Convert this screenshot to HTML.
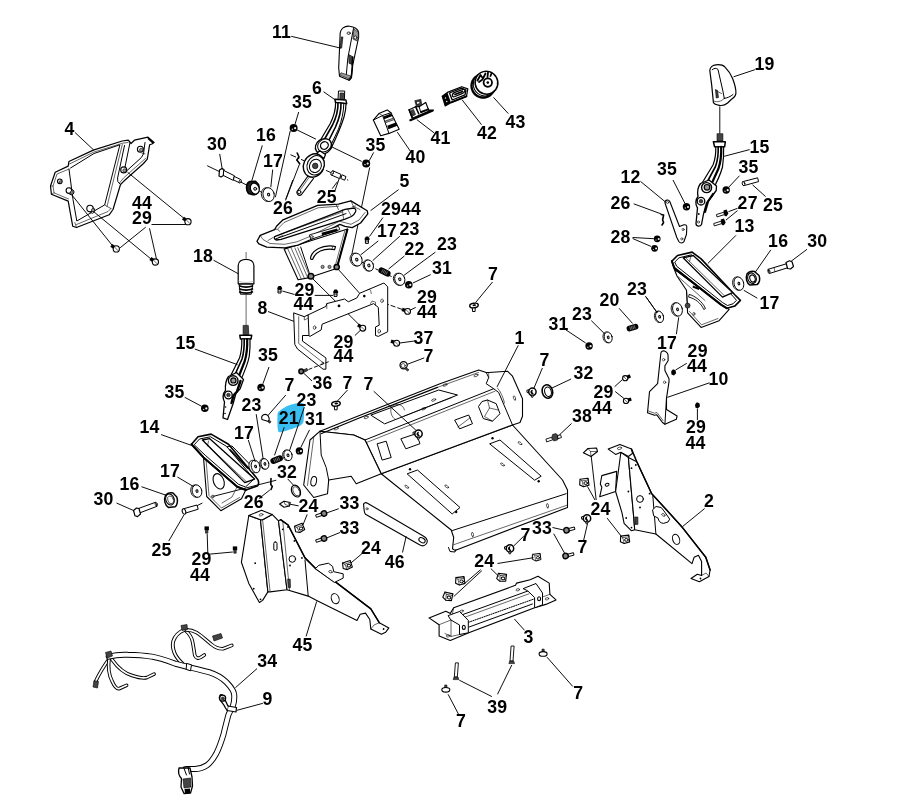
<!DOCTYPE html><html><head><meta charset="utf-8"><title>Parts diagram</title><style>html,body{margin:0;padding:0;background:#fff}svg{display:block;will-change:transform}text{font-family:"Liberation Sans",sans-serif;font-weight:bold;font-size:17.7px;fill:#000;letter-spacing:.2px}.s{fill:none;stroke:#000;stroke-width:1;stroke-linecap:round;stroke-linejoin:round}.w{fill:#fff;stroke:#000;stroke-width:1;stroke-linejoin:round;stroke-linecap:round}.k{fill:#000;stroke:none}.l{fill:none;stroke:#000;stroke-width:.95}.t{fill:none;stroke:#000;stroke-width:.6;stroke-linecap:round;stroke-linejoin:round}.g{fill:#999;stroke:#000;stroke-width:.6;stroke-linejoin:round}.d{fill:#444;stroke:#000;stroke-width:.6;stroke-linejoin:round}.b{fill:none;stroke:#000;stroke-width:1.6;stroke-linecap:round;stroke-linejoin:round}.wb{fill:#fff;stroke:#000;stroke-width:1.6;stroke-linecap:round;stroke-linejoin:round}</style></head><body>
<svg width="920" height="801" viewBox="0 0 920 801">
<rect width="920" height="801" fill="#fff"/>
<g><path d="M277.600 413.200 C278 411.800 281 409.500 284.600 407.400 C287.500 405.800 290 404.900 292.400 404.300 C295.500 403.500 298 403 300.200 403 C302 403 304 403.300 304.100 404.300 C304.300 407 304.200 410 304.100 412.600 C304 416 303.800 420.500 303.300 422.200 C302.600 424 300.500 425.600 298.500 426.500 C296 427.600 293 428.700 289.800 429.600 C287 430.500 283.500 431.600 281.100 432.200 C279.500 432.500 278.200 431.800 278 430.400 C277.600 428 277.400 425.500 277.400 423 C277.400 420 277.400 415.500 277.600 413.200Z" fill="#38bef0"/></g>
<g><path class="w" style="stroke-width:1.2" d="M68.9 161.5 L93.3 150.1 L122.2 141 L128.3 140.2 L131 143.5 L134.4 140.2 L148 137.2 L154.1 142.5 L151.9 144 L149.6 144.8 L147.3 159.2 L143.5 163.5 L123.7 181.3 L120.5 184.5 L113 209.5 L109.2 214.8 L76.5 227.5 L72.7 226.2 L68.2 201.1 L51.4 194.2 L50.5 186 L55.2 172.2 L68.2 166.1Z"/><path class="s" d="M70.5 168 L94 153.5 L119.9 144.8 L104.7 204.9 L76.8 221 L73 199.5 L69 169"/><path class="t" d="M69.5 164 L93.6 152.2 L122.5 143.2 L128 142.5"/><path class="s" d="M124.5 145.5 L117.6 178 L117.8 181.5 L120.5 184.5"/><path class="t" d="M122.3 144.5 L107 206.5"/><path class="s" d="M130 142.5 L124.8 168 L126 171.5 L141.2 157.7 L143.5 153.9 L145 142.5"/><path class="t" d="M145 153.8 L142 153.5"/><path class="t" d="M119.5 183 L123.5 178 L146 158"/><path class="k" d="M148 137.2 L154.1 142.5 L152.5 143.5 L147.6 139Z"/><path class="t" d="M104.7 204.9 L108 207 L111 208.5"/><path class="t" d="M76.5 224.5 L108 211.5 L111 208.5"/><path class="t" d="M74.8 222.5 L76.5 227.5"/><path class="t" d="M68.5 199 L54 192.8 L53 186 L57 174 L68.9 169.1"/><path class="t" d="M50.5 186 L53 186"/><path class="t" d="M51.4 194.2 L54 192.8"/><circle class="w" style="stroke-width:1.1" cx="59.8" cy="181.3" r="2.3"/><circle class="g" cx="60.6" cy="181.9" r="1.3"/><circle class="w" style="stroke-width:1.1" cx="123.7" cy="169.9" r="3"/><circle class="g" cx="124.5" cy="170.5" r="1.7"/><circle class="w" style="stroke-width:1.1" cx="140.4" cy="149.3" r="3"/><circle class="g" cx="141.2" cy="149.9" r="1.7"/><path class="w" d="M68.3 193.3 l3 1.6 a2.8 2.8 0 0 0 1.6 -5 l-3 -1.6"/><circle class="w" style="stroke-width:1.1" cx="68.9" cy="190.5" r="2.8"/><circle class="g" cx="71.9" cy="192.1" r="1.4"/><path class="w" d="M89.4 211.7 l3 1.6 a3.2 3.2 0 0 0 1.6 -5 l-3 -1.6"/><circle class="w" style="stroke-width:1.1" cx="90" cy="208.5" r="3.2"/><circle class="g" cx="93" cy="210.1" r="1.6"/><path class="l" d="M75 132.5L93.7 150"/><path class="l" d="M127.5 172.2L184.8 219"/><path class="l" d="M71.5 194.5L112.5 245.7"/><path class="l" d="M93.5 211.5L153.3 260.9"/><path class="l" d="M151.5 224.5L185.9 224.5"/><path class="l" d="M145.7 227.2L120.1 247.8"/><path class="l" d="M149.5 228.3L156.5 259.2"/><path class="k" d="M189 220.3 L184 216.8 L182 219.6 L187 223.1Z"/><circle class="w" style="stroke-width:1.1" cx="188" cy="221.7" r="3.1"/><path class="t" d="M186.4 220.1L189.6 223.2"/><path class="k" d="M117.3 247.5 L112.3 244 L110.3 246.8 L115.3 250.3Z"/><circle class="w" style="stroke-width:1.1" cx="116.3" cy="248.9" r="3.1"/><path class="t" d="M114.8 247.3L117.8 250.5"/><path class="k" d="M156.4 260.6 L151.4 257.1 L149.4 259.9 L154.4 263.4Z"/><circle class="w" style="stroke-width:1.1" cx="155.4" cy="262" r="3.1"/><path class="t" d="M153.8 260.4L157 263.6"/></g>
<g><path class="w" style="stroke-width:1.1" d="M340.1 35 C340 28 345 25.8 349.5 26.2 C354 26.6 358.4 29 358.6 32.5 L358.6 37.5 L352.4 66.7 L351.3 77.4 L349 80.2 L339.5 76.2 L338.7 67.8 Z"/><path class="s" d="M353.5 28.5 L347.9 57.7 L346.2 75.7"/><path class="d" d="M341.2 36.9 L342.9 36.9 L341.7 48.1 L340 48.1Z"/><path class="g" d="M353.8 29 L358.2 32 L358.6 37.5 L357 41 L353 39Z"/><circle class="w" style="stroke-width:.8" cx="355.4" cy="37.5" r="1.6"/><ellipse class="w" style="stroke-width:.8" cx="348.7" cy="33.2" rx="1.7" ry="1.2"/><path class="d" d="M348.5 54.3 L352.4 56.6 L351.9 64.4 L349 63.3Z"/><path class="g" d="M339.8 75 L349 79 L350.8 76 L341 72.8Z"/><path class="b" d="M352.4 66.7 L351.3 77.4 L349.3 80"/><path class="b" d="M352.8 57 L352.2 66"/><path class="l" d="M291.2 36.3L340.6 48.1"/><path class="w" d="M338.9 91 L344.7 91 L344.4 99.5 L338.4 99.5Z"/><path class="d" d="M340 93 L343.6 93 L343.4 99.5 L339.8 99.5Z"/><path class="w" style="stroke-width:1.4" d="M334.9 99.2 L345.9 100 L346.7 103.7 L335.4 102.4Z"/><path class="w" style="stroke-width:1.2" d="M335.6 102.4 C335.8 110 334 116 330 124 L320.5 140 L331 148.5 C336 138 341 127 344 117 C345.5 112 346 108 346 103.7 Z"/><path class="b" d="M338 103 C338.2 111 336 118 332.5 125 L323.5 141"/><path class="b" d="M341 103.4 C341.2 112 339 119 335.5 127 L327 144"/><path class="s" d="M343.8 103.6 C343.8 112 341.5 121 338.5 129 L330 147"/><ellipse class="w" style="stroke-width:1.3" cx="323.5" cy="146.3" rx="8.6" ry="7.2" transform="rotate(-35 323.5 146.3)"/><ellipse class="w" style="stroke-width:1" cx="324.4" cy="145.5" rx="7.2" ry="6" transform="rotate(-35 324.4 145.5)"/><ellipse class="w" style="stroke-width:1.3" cx="324.4" cy="145.5" rx="4" ry="3.6" transform="rotate(-35 324.4 145.5)"/><path class="w" style="stroke-width:1.2" d="M308 176 L297 191.500 C296 194 299 196.500 301.500 194.500 L313.500 178.5"/><path class="t" d="M309.8 176.500 L299.500 191"/><path class="w" style="stroke-width:1.2" d="M316.500 153.500 L319.800 150.800 L325.500 154.500 L324 158.500 Z"/><ellipse class="w" style="stroke-width:1.4" cx="313.8" cy="165.5" rx="10.2" ry="12" transform="rotate(25 313.8 165.5)"/><ellipse class="w" style="stroke-width:1.1" cx="315.6" cy="165.3" rx="8.4" ry="10" transform="rotate(25 315.6 165.3)"/><ellipse class="w" cx="315.4" cy="165.9" rx="5.8" ry="6.8" transform="rotate(25 315.4 165.9)"/><circle class="d" cx="315.2" cy="165.9" r="2.8"/><circle class="w" style="stroke-width:.9" cx="299.2" cy="192" r="1.7"/><circle class="k" cx="293.6" cy="128" r="4"/><circle class="w" style="stroke:none;fill:#eee" cx="295.1" cy="128.2" r="1.1"/><circle class="w" style="stroke:none;fill:#ccc" cx="292.4" cy="129.2" r="0.8"/><circle class="k" cx="366.2" cy="163.4" r="4"/><circle class="w" style="stroke:none;fill:#eee" cx="367.7" cy="163.6" r="1.1"/><circle class="w" style="stroke:none;fill:#ccc" cx="365" cy="164.6" r="0.8"/><path class="l" d="M297.2 130L316 139.2"/><path class="l" d="M332 147L361.7 161.4"/><path class="l" d="M298.7 112L295 124.3"/><path class="l" d="M373.7 152.4L369.2 160.7"/><path class="l" d="M369.7 167.5L351.2 257.5"/><path class="l" d="M290.2 131L275.4 197.2"/><path class="l" d="M323.5 91.7L335.4 100"/><path class="l" d="M290.500 154.700L304 160.700M326 170.400L348.2 180.200" stroke-dasharray="6 2 1.5 2"/><path class="w" d="M333 170.8 L341 174.4 L339.5 178.6 L331.3 175Z"/><ellipse class="w" style="stroke-width:.8" cx="332.2" cy="172.9" rx="1.1" ry="2.2" transform="rotate(25 332.2 172.9)"/><path class="w" d="M342.5 175 L346 176.6 L344.6 180.2 L341 178.6Z"/><path class="l" d="M335 190.5L339.2 178.7"/><path class="b" d="M297.200 153 L299 157 L296.800 160 L299.700 163.800"/><path class="l" d="M285.5 200.4L299.4 164.4"/><path class="l" d="M207.200 165.700L219 171.400M241 182.200L247 185.200M259.500 191.200L263 193" /><path class="w" style="stroke-width:1.2" d="M219.5 170 L222 168.5 L224 169.5 L223.5 175.5 L221 177 L219 176Z"/><path class="w" d="M224 170.6 L234.5 175.8 L233.3 180.4 L223.6 175.6Z"/><path class="w" d="M234.5 176.5 L240.6 179.5 L239.8 183 L233.8 180Z"/><ellipse class="w" style="stroke-width:.8" cx="240.2" cy="181.3" rx="1" ry="1.8" transform="rotate(25 240.2 181.3)"/><path class="l" d="M219.7 153.9L222.3 169.6"/><path class="wb" style="fill:#222" d="M250 181.500 C246 182.500 245.500 190 248.500 193.500 L253 194.800 C258 195 260 189 258.500 184.500 L255.500 181.200 Z"/><ellipse class="w" style="stroke-width:1.2" cx="254.8" cy="188.6" rx="4.3" ry="5.6" transform="rotate(-18 254.8 188.6)"/><circle class="w" style="stroke-width:.9;fill:#bbb" cx="255.2" cy="188.8" r="1.5"/><path class="l" d="M262.3 145.4L251.8 180.8"/><ellipse class="w" style="stroke-width:.8" cx="267" cy="194.6" rx="5.6" ry="7" transform="rotate(-15 267 194.6)"/><ellipse class="w" style="stroke-width:.9" cx="268.6" cy="194.6" rx="5.6" ry="7" transform="rotate(-15 268.6 194.6)"/><ellipse class="w" style="stroke-width:1;fill:#ddd" cx="268.6" cy="194.6" rx="1.1" ry="1.4" transform="rotate(-15 268.6 194.6)"/><path class="l" d="M272.7 169.6L270.8 187.3"/></g>
<g><path class="w" style="stroke-width:1.1" d="M373.3 120.1 L378.9 113.6 L387.2 109.9 L390.9 112.7 L399.2 129.3 L389 133.4 L380.7 135.8Z"/><path class="s" d="M373.3 120.1 L382.6 115.5 L389 133.4"/><path class="s" d="M382.6 115.5 L390.9 112.7"/><path class="t" d="M378.9 113.6 L382.6 115.5"/><path class="k" d="M383.2 116.6 L391.2 113.6 L392.4 116 L384.2 119.2Z"/><path class="k" d="M387.2 125.8 L395.8 122.6 L397.4 125.8 L388.4 129.2Z"/><path class="g" d="M385.2 121 L393.6 118 L394.4 119.6 L385.8 122.6Z"/><path class="l" d="M397.3 132.1L411.2 152.4"/><path class="w" style="stroke-width:1.2" d="M409.1 109.8 L415.7 106.7 L419.1 106.7 L425.7 102.4 L428.7 110.2 L431.5 110 L412.2 118.2Z"/><path class="b" style="stroke-width:2.2" d="M410.4 120.2 L432.8 110.4"/><path class="b" d="M409.1 109.8 L412.2 117.2"/><path class="d" d="M410.5 110.8 L413.5 109.4 L415.5 114.5 L412.5 116Z"/><path class="b" d="M415.7 106.7 L418.7 113.7"/><path class="s" d="M419.1 106.7 L420.9 112.8"/><path class="k" d="M420.2 111.2 L428.7 108.2 L429.2 110 L420.9 113.2Z"/><path class="d" d="M414.8 100.7 L420.9 99.3 L421.7 105 L416.5 106.7Z"/><path class="w" style="stroke-width:.6" d="M416.5 101.8 L419.5 101.2 L420 103.5 L417 104.3Z"/><path class="l" d="M416.8 119.6L434.3 133"/><path class="w" style="stroke-width:1.2" d="M442.2 96.3 L447.4 92.4 L461.7 86.7 L467.8 88.9 L466.5 96.3 L451.3 102.4 L445.2 105.9Z"/><path class="k" d="M442.2 96.3 L447.4 92.4 L450.9 102.4 L445.2 105.9Z"/><circle class="w" style="stroke:none" cx="445.5" cy="98" r="0.7"/><circle class="w" style="stroke:none" cx="446.8" cy="101.5" r="0.7"/><path class="b" style="stroke-width:1.3" d="M449.5 93 L461.5 88.2 L466 90 L465 94.8 L452.2 100Z"/><path class="w" style="stroke-width:1.3" d="M452.500 96 C452 94 453.500 93 455 92.400 L463 89.400 C464.500 89 465.300 90 464.800 91.200 C464.300 92.500 463.500 93 462 93.600 L455 96.500 C453.500 97 452.800 97 452.500 96Z"/><path class="b" style="stroke-width:1.8" d="M455 94.5 L462.5 91.5"/><path class="b" style="stroke-width:1.800" d="M451.3 102.4 L466.5 96.3"/><path class="l" d="M462 99.7L481.5 124.7"/><ellipse class="wb" style="stroke-width:2.4" stroke-dasharray="1.6 .7" cx="483" cy="86" rx="11.4" ry="11.6" transform="rotate(-30 483 86)"/><ellipse class="w" style="stroke-width:1" cx="484.7" cy="84.4" rx="11.4" ry="11.6" transform="rotate(-30 484.7 84.4)"/><ellipse class="w" style="stroke-width:1.5" cx="486.5" cy="82.7" rx="11.3" ry="11.6" transform="rotate(-30 486.5 82.7)"/><circle class="wb" style="stroke-width:1.8" cx="487.8" cy="82.6" r="4.2"/><circle class="k" cx="487.8" cy="82.6" r="1.3"/><path class="b" style="stroke-width:1.8" d="M477.500 80.500 L480.500 75 L483 78.500 L485.500 73.500 M479 82 L482.500 79.500 M488 72.500 L487.500 77 M491.500 73.500 L490.500 76"/><path class="l" d="M493.5 97.4L508.3 113.6"/></g>
<g><path class="w" style="stroke-width:1.1" d="M284.1 249.1 L298.1 279.7 L309.4 277.6 L336.5 268.4 L347.6 229 L300.7 244Z"/><path class="s" d="M300.7 247 L310.6 277"/><path class="t" d="M287.7 248.7L301.3 279"/><path class="t" d="M291.3 248.4L304.4 278.3"/><path class="t" d="M294.9 248L307.6 277.5"/><path class="t" d="M297.7 247.7L310.1 277"/><path class="b" style="stroke-width:2" d="M347.4 229.6 L337 267.5"/><path class="t" d="M344.8 230.8 L334.8 267.4"/><path class="w" style="stroke-width:1.2" d="M310.5 258 C312 250.5 322 244 335.5 246.5 L334.6 249.6 C323.5 247.5 315 252.5 312.8 259 C311.8 260 310.4 259.4 310.5 258Z"/><path class="t" d="M333 246.2 l-1.2 3"/><circle class="g" cx="322.6" cy="266.9" r="1.6"/><circle class="g" cx="329.5" cy="266.9" r="1.6"/><circle class="w" style="stroke-width:1.5;fill:#888" cx="336.7" cy="267" r="2.6"/><circle class="w" style="stroke-width:1.5;fill:#888" cx="310.9" cy="276.3" r="2.8"/><path class="w" style="stroke-width:1.3" d="M257 241.300 L260.200 235.400 L274.600 229.600 L276.500 226.300 L283 219.800 L317.600 205.400 L338.500 204.100 L350.900 200.900 L367.200 210.700 L367.800 213.900 L360.600 223 L352.200 227.600 L345 226.300 L339.800 224.300 L309.800 240 L298 245.200 L285 247.800 L266.700 247.200 L258.900 243.900 Z"/><path class="t" d="M260.200 235.400 L263 239.500 L270 243.500 L284.500 244.300 L297 241.800 L309 236.800 L339.500 221.200 L351 224.300 L359 220 L365 212.500"/><path class="w" style="stroke-width:1.3" d="M274.600 236.700 L345 209.300 L354.100 208 C356 209 356.200 210.800 355.400 212 C354.500 214 353 215.800 351.500 216.500 L345 219.100 L281.100 239.300 L276.500 240 C274.500 239.500 273.800 238 274.600 236.700Z"/><path class="t" d="M281.100 234.100 L342.400 212 M278.500 237.300 L283 235.500"/><path class="s" d="M276 238.800 L346 213.600"/><path class="t" d="M342.400 209.800 L343.500 218.500 M347.500 209 L351.500 216.500"/><path class="t" d="M277.800 228.900 L284 222.500 L318 207.800 L338.500 206.200"/><path class="t" d="M274.600 229.600 C276.500 228.500 279 229.500 279.800 231.500"/><path class="t" d="M336 204.500 L338.500 209.500 M350.900 200.900 L353.500 206.500 L360 209.500"/><path class="t" d="M268 240.500 l5 -3 M352.500 206.500 l3 -.5"/><path class="w" style="stroke-width:.9" d="M309.8 234.8 L338.5 226.3 L339.8 229.6 L311.1 239.3Z"/><path class="k" d="M321.5 232.8 L337.2 228.6 L337.6 231.2 L322.2 235.6Z"/><circle class="t" cx="311.9" cy="236.8" r="1.3"/><path class="l" d="M398.6 189.6L370.6 210.6"/><path class="l" d="M292.8 180L285.8 199.2"/><path class="l" d="M337.4 181.7L332.2 188.7"/><path class="l" d="M338 269L359.6 293.3"/><path class="l" d="M312.5 278.5L360.5 326.1"/><path class="l" d="M364.300 296.100L404.500 310.200" stroke-dasharray="5 2"/><path class="k" d="M277.3 288.1 L278.5 286 L280.9 286 L282.1 288.1 L282.1 289.6 L277.3 289.6Z"/><path class="w" style="stroke-width:1" d="M278.4 289.6 L281 289.6 L281 293 L278.4 293Z"/><path class="t" d="M278.4 291.3L281 291.3"/><path class="k" d="M333.3 291.5 L334.5 289.4 L336.9 289.4 L338.1 291.5 L338.1 293 L333.3 293Z"/><path class="w" style="stroke-width:1" d="M334.4 293 L337 293 L337 296.4 L334.4 296.4Z"/><path class="t" d="M334.4 294.7L337 294.7"/><path class="k" d="M364.7 238.5 L365.9 236.4 L368.3 236.4 L369.5 238.5 L369.5 240 L364.7 240Z"/><path class="w" style="stroke-width:1" d="M365.8 240 L368.4 240 L368.4 243.4 L365.8 243.4Z"/><path class="t" d="M365.8 241.7L368.4 241.7"/><path class="l" d="M282.3 291L294.6 294.5"/><path class="l" d="M314.7 295.4L333 295.4"/><path class="l" d="M382.9 217.6L369.5 236.5"/><path class="w" style="stroke-width:1" d="M308.1 314.9 L325.9 306.4 L326.8 303.6 L344.6 299 L348.3 301.8 L356.8 298 L359.6 293.3 L383.9 283 L387.7 286.8 L387.7 331.7 L378.3 336.4 L375.5 335.5 L375.5 327 L379.2 325.2 L378.3 307.4 L373.6 303.6 L322.1 324.2 L321.2 329.9 L310 336.4 L308.5 335.5Z"/><path class="w" style="stroke-width:1" d="M294 313 L304.3 316.7 L308.1 314.9 L309 335.5 L302.5 335.5 L302.5 341.1 L325.9 357.9 L325.9 369.2 L323.1 369.2 L297.5 349 L295 344.8Z"/><path class="t" d="M298.7 316.7 L298.7 343.5 L323.5 363"/><path class="t" d="M304.3 316.7 L304.3 320 L307.5 318.5"/><path class="t" d="M326.8 303.6 L326.8 308.5"/><path class="t" d="M368 289.600 C370 288.500 371 290 371.200 293.500"/><path class="t" d="M370.500 303.500 l1.500 -2.500 l3.500 1.200 l0 3"/><ellipse class="t" cx="314.6" cy="327.6" rx="1.3" ry="1.8" transform="rotate(10 314.6 327.6)"/><ellipse class="t" cx="382" cy="300.8" rx="1.3" ry="1.8" transform="rotate(10 382 300.8)"/><ellipse class="t" cx="379.2" cy="331.3" rx="1.3" ry="1.8" transform="rotate(10 379.2 331.3)"/><circle class="k" cx="339" cy="305.9" r="1.4"/><circle class="k" cx="364.3" cy="296.1" r="1.3"/><circle class="t" cx="322.8" cy="363.2" r="1"/><path class="l" d="M268 311.5L294 321.4"/><path class="k" d="M363.8 326.8 L358.9 323.4 L357 326.2 L361.8 329.6Z"/><circle class="w" style="stroke-width:1.1" cx="362.8" cy="328.2" r="2.9"/><path class="t" d="M361.4 326.8L364.2 329.6"/><path class="k" d="M408.2 309.8 L402.6 307.8 L401.5 311 L407 313Z"/><circle class="w" style="stroke-width:1.1" cx="407.6" cy="311.4" r="2.9"/><path class="t" d="M406.2 309.9L409.1 312.8"/><path class="k" d="M397.2 341.6 L391.5 339.6 L390.4 342.7 L396 344.8Z"/><circle class="w" style="stroke-width:1.1" cx="396.6" cy="343.2" r="3"/><path class="t" d="M395.1 341.7L398.1 344.7"/><path class="l" d="M415.7 307.4L410.1 310.2"/><path class="l" d="M354.9 335.5L360.5 330.2"/><path class="l" d="M413.9 341.1L399.8 343"/><circle class="w" style="stroke-width:1.2" cx="403.6" cy="365.2" r="3.6"/><circle class="t" cx="403.2" cy="365.6" r="2"/><path class="d" d="M405.5 367.2 L409 369.8 L407.5 371 L404.5 368.5Z"/><path class="l" d="M424.2 357.9L407.3 364.3"/><circle class="w" style="stroke-width:1.500;fill:#777" cx="301.2" cy="371.4" r="2.3"/><path class="d" d="M303.5 369.8 L307 368.4 L307.8 370.5 L304.4 372.2Z"/><path class="l" d="M308.500 369.500L328.700 361.700" stroke-dasharray="4 2"/><path class="l" d="M312 381L304 373.5"/><path class="l" d="M351.4 256.9L361.9 262.2"/><path class="l" d="M361.900 262.200L409 285" stroke-dasharray="3 2"/><ellipse class="w" style="stroke-width:.8" cx="355.4" cy="259.6" rx="5.2" ry="6.6" transform="rotate(-20 355.4 259.6)"/><ellipse class="w" style="stroke-width:.9" cx="356.8" cy="259.6" rx="5.2" ry="6.6" transform="rotate(-20 356.8 259.6)"/><ellipse class="w" style="stroke-width:1;fill:#ddd" cx="356.8" cy="259.6" rx="1.1" ry="1.4" transform="rotate(-20 356.8 259.6)"/><ellipse class="w" style="stroke-width:.8" cx="367.7" cy="265.5" rx="4.5" ry="5.7" transform="rotate(-20 367.7 265.5)"/><ellipse class="w" style="stroke-width:.9" cx="368.9" cy="265.5" rx="4.5" ry="5.7" transform="rotate(-20 368.9 265.5)"/><ellipse class="w" style="stroke-width:1;fill:#ddd" cx="368.9" cy="265.5" rx="1.1" ry="1.4" transform="rotate(-20 368.9 265.5)"/><path d="M381.5 270.5L387.5 273.5" fill="none" stroke="#000" stroke-width="6.2" stroke-linecap="round"/><path d="M383.1 269.2L381.4 272.5" fill="none" stroke="#fff" stroke-width=".45"/><path d="M384.6 270L382.9 273.3" fill="none" stroke="#fff" stroke-width=".45"/><path d="M386.1 270.7L384.4 274" fill="none" stroke="#fff" stroke-width=".45"/><path d="M387.6 271.5L385.9 274.8" fill="none" stroke="#fff" stroke-width=".45"/><ellipse class="w" style="stroke-width:.8" cx="398.5" cy="279.3" rx="5" ry="6.2" transform="rotate(-20 398.5 279.3)"/><ellipse class="w" style="stroke-width:.9" cx="399.8" cy="279.3" rx="5" ry="6.2" transform="rotate(-20 399.8 279.3)"/><ellipse class="w" style="stroke-width:1;fill:#ddd" cx="399.8" cy="279.3" rx="1.1" ry="1.4" transform="rotate(-20 399.8 279.3)"/><circle class="k" cx="408.8" cy="284.7" r="3.8"/><circle class="w" style="stroke:none;fill:#eee" cx="410.3" cy="284.9" r="1.1"/><circle class="w" style="stroke:none;fill:#ccc" cx="407.6" cy="285.9" r="0.7"/><path class="l" d="M430.7 274.6L412.9 283"/><path class="l" d="M435.4 252.1L403.6 275.6"/><path class="l" d="M404.5 255.9L388.6 269"/><path class="l" d="M399.8 236.2L372.7 260.6"/><path class="l" d="M378.3 240.9L360.5 255"/></g>
<g><path class="t" d="M246.100 252.400L246.100 258M246.100 295L246.100 325.400"/><path class="w" style="stroke-width:1.2" d="M238.200 283.800 L238.200 265.500 C238.200 257.200 253.900 257.200 253.900 265.500 L253.900 283.800 Z"/><path class="t" style="stroke:#999" d="M238.200 281 C242 283 250 283 253.900 281"/><path class="w" d="M239.4 284.2 L252.8 284.2 L251.2 294.2 L240.8 294.2Z"/><path class="b" style="stroke-width:1.8" d="M239.800 286 C243 287.4 249 287.4 252.400 286"/><path class="b" style="stroke-width:1.8" d="M239.800 289 C243 290.4 249 290.4 252.400 289"/><path class="b" style="stroke-width:1.8" d="M239.800 292 C243 293.4 249 293.4 252.400 292"/><path class="l" d="M213.5 260.2L238.2 273.7"/><path class="d" d="M243.1 325.4 L248.3 325.4 L248.8 334.6 L243.1 334.6Z"/><path class="w" style="stroke-width:1.5" d="M239.8 335.3 L251.7 335.3 L251 339 L240.4 339Z"/><path class="w" style="stroke-width:1.2" d="M241.800 339 C242 346 241.500 352 239.500 358 L229.500 378 L239.500 383 C244 373 248 364 249.300 356 C250 350 250.200 344 250 339Z"/><path class="b" d="M244.200 339 C244.400 347 243.800 353 242 359 L233 379"/><path class="b" style="stroke-width:2.2" d="M247.200 339 C247.500 348 246.500 355 244.800 361 L237 381"/><path class="w" style="stroke-width:1.3" d="M228.500 376.500 L236.500 372.500 L243.500 379.500 L240 389 L236 393 L233 404 L227.500 419.500 L223 417.800 L224.500 402 C222.500 398 223 393.500 225.500 390.500 C225 385 226 380 228.500 376.500Z"/><path class="b" style="stroke-width:2.4" d="M240.500 381 L237 391.500 L233.500 395.500 L231.500 403"/><circle class="w" style="stroke-width:1.4" cx="233.2" cy="380.6" r="4.8"/><circle class="w" style="stroke-width:1.2;fill:#999" cx="233.4" cy="380.4" r="2.6"/><circle class="w" style="stroke-width:1.3" cx="228.4" cy="395" r="3.8"/><circle class="d" cx="228.4" cy="395" r="1.8"/><circle class="k" cx="225.6" cy="407" r="0.8"/><circle class="k" cx="225" cy="413.5" r="0.8"/><path class="l" d="M194.8 349L237.5 364.7"/><circle class="k" cx="261.1" cy="387.5" r="3.8"/><circle class="w" style="stroke:none;fill:#eee" cx="262.6" cy="387.7" r="1.1"/><circle class="w" style="stroke:none;fill:#ccc" cx="259.9" cy="388.7" r="0.7"/><circle class="k" cx="204.8" cy="408.2" r="3.8"/><circle class="w" style="stroke:none;fill:#eee" cx="206.3" cy="408.4" r="1.1"/><circle class="w" style="stroke:none;fill:#ccc" cx="203.6" cy="409.4" r="0.7"/><path class="l" d="M269 367L262.9 383.8"/><path class="l" d="M184.7 397.3L201.6 406.3"/><path class="w" style="stroke-width:1.1" d="M262 419.500 C260.500 415 265.500 412.800 268.200 416 C269.500 417.800 269.500 419.500 268.500 421.500 Z"/><path class="d" d="M268.6 420.2 L271 421.5 L270 423.2 L268 422Z"/><path class="l" d="M285.8 395L267.6 415.9"/><path class="w" style="stroke-width:1.1" d="M203.5 457.4 L206.7 496.5 L220.9 510.7 L241.5 498.7 L246 489.5 L237.2 486.7Z"/><path class="t" d="M206 459 L209 495.5 L221.5 508 L239.5 497.5"/><ellipse class="w" style="stroke-width:1.1" cx="218.7" cy="481.3" rx="5.2" ry="8" transform="rotate(-22 218.7 481.3)"/><circle class="g" cx="212.8" cy="496.5" r="1.3"/><path class="t" d="M237.2 486.7 L232 497 L222 503"/><path class="w" style="stroke-width:1.6" d="M191.500 444.300 L198 436.700 L211.100 434.100 L228.500 444.300 L256.700 478 C258.500 480 259.500 482.500 257.800 485.700 L245.900 490 L237.200 486.700 L203.500 457.400 Z"/><path class="s" d="M194.500 444.500 L199.500 439 L210.500 436.800 L226.500 446.300 L254 479 L245.500 487 L238.500 484.300 L205.500 455.500Z"/><path class="w" style="stroke-width:1.3" d="M202.400 440 L209.500 438.600 L254.600 479.100 L244.800 482.600 Z"/><path class="t" d="M204.500 442.300 L246.500 481.800 M208.500 441 L207.500 446"/><path class="s" d="M227 446.800 L232 446 L250.500 465 L247.500 468.500"/><path class="b" d="M230 449.800 L247 467.500"/><path class="b" style="stroke-width:2" d="M191.500 444.300 L203.500 457.400 L237.200 486.700 L245.900 490"/><path class="l" d="M161.1 434.6L191.5 445.4"/><path class="l" d="M213.500 496.300L276.300 480.200M202.400 503L191.500 508.500" /><ellipse class="w" style="stroke-width:.8" cx="253.4" cy="466.5" rx="4.3" ry="6.4" transform="rotate(-15 253.4 466.5)"/><ellipse class="w" style="stroke-width:.9" cx="255.6" cy="466.5" rx="4.3" ry="6.4" transform="rotate(-15 255.6 466.5)"/><ellipse class="w" style="stroke-width:1;fill:#ddd" cx="255.6" cy="466.5" rx="0.9" ry="1.3" transform="rotate(-15 255.6 466.5)"/><ellipse class="w" style="stroke-width:.8" cx="263.7" cy="463.9" rx="3.9" ry="5.4" transform="rotate(-15 263.7 463.9)"/><ellipse class="w" style="stroke-width:.9" cx="264.9" cy="463.9" rx="3.9" ry="5.4" transform="rotate(-15 264.9 463.9)"/><ellipse class="w" style="stroke-width:1;fill:#ddd" cx="264.9" cy="463.9" rx="0.9" ry="1.3" transform="rotate(-15 264.9 463.9)"/><path d="M273.5 460.8L279.8 458.4" fill="none" stroke="#000" stroke-width="6.2" stroke-linecap="round"/><path d="M273.6 458.8L274.9 462.2" fill="none" stroke="#fff" stroke-width=".45"/><path d="M275.2 458.2L276.5 461.6" fill="none" stroke="#fff" stroke-width=".45"/><path d="M276.8 457.6L278.1 461" fill="none" stroke="#fff" stroke-width=".45"/><path d="M278.4 457L279.7 460.4" fill="none" stroke="#fff" stroke-width=".45"/><ellipse class="w" style="stroke-width:.8" cx="286.8" cy="455.3" rx="4.1" ry="5.4" transform="rotate(-15 286.8 455.3)"/><ellipse class="w" style="stroke-width:.9" cx="288" cy="455.3" rx="4.1" ry="5.4" transform="rotate(-15 288 455.3)"/><ellipse class="w" style="stroke-width:1;fill:#ddd" cx="288" cy="455.3" rx="1" ry="1.3" transform="rotate(-15 288 455.3)"/><circle class="k" cx="299.4" cy="450.9" r="3.7"/><circle class="w" style="stroke:none;fill:#eee" cx="300.9" cy="451.1" r="1.1"/><circle class="w" style="stroke:none;fill:#ccc" cx="298.2" cy="452.1" r="0.7"/><path class="l" d="M256.2 414.2L263.2 459.2"/><path class="l" d="M284.2 427.3L274.5 455.3"/><path class="l" d="M304.3 407.2L289.4 451"/><path class="l" d="M309.5 429.9L300.8 447.4"/><path class="l" d="M248.3 440L255.3 462"/><path class="b" d="M271 478.500 L270.800 484.500 L272.300 486.500 L271 489.500"/><path class="l" d="M258.9 498.7L269.8 490"/><ellipse class="w" style="stroke-width:1.2" cx="296" cy="491.1" rx="4.2" ry="6.2" transform="rotate(-25 296 491.1)"/><ellipse class="t" cx="296.4" cy="491.3" rx="3" ry="4.8" transform="rotate(-25 296.4 491.3)"/><path class="l" d="M287.7 478.9L293.8 485.5"/><ellipse class="w" style="stroke-width:.8" cx="195.6" cy="491.1" rx="4.8" ry="6.3" transform="rotate(-15 195.6 491.1)"/><ellipse class="w" style="stroke-width:.9" cx="197" cy="491.1" rx="4.8" ry="6.3" transform="rotate(-15 197 491.1)"/><ellipse class="w" style="stroke-width:1;fill:#ddd" cx="197" cy="491.1" rx="1" ry="1.3" transform="rotate(-15 197 491.1)"/><path class="l" d="M177.4 477L193.7 486.7"/><path class="w" style="stroke-width:1.5" d="M165.500 495.500 C163.500 500 165 505.500 168.500 507.500 L175 506.800 C177.500 505 178 500.500 176.800 497 L173 493 C170 492.500 167 493.500 165.500 495.500Z"/><ellipse class="w" style="stroke-width:1.1" cx="170" cy="499.5" rx="4.2" ry="5.6" transform="rotate(-20 170 499.5)"/><ellipse class="t" cx="170.6" cy="499.8" rx="2.8" ry="4" transform="rotate(-20 170.6 499.8)"/><path class="l" d="M141.5 486.7L166.5 495.4"/><path class="w" d="M138.5 508.5 L155.5 502.3 L157 506.3 L140 512.8Z"/><path class="w" style="stroke-width:1.2" d="M133.5 510.5 L136.5 508 L139 508.6 L140.5 514 L137.5 516.6 L135 515.8Z"/><ellipse class="t" cx="156.3" cy="504.3" rx="1.1" ry="2.1" transform="rotate(-20 156.3 504.3)"/><path class="l" d="M116.5 503L133.9 510.7"/><path class="w" d="M184.5 508.5 L197 505 L198.2 509.2 L185.8 513Z"/><ellipse class="w" style="stroke-width:1.1" cx="184" cy="511.5" rx="1.7" ry="2.8" transform="rotate(-15 184 511.5)"/><path class="l" d="M168.7 541.1L183.9 515"/><path class="k" d="M204.5 526.4 L208.9 526.4 L208.9 530.2 L204.5 530.2Z"/><path class="d" d="M205.5 530.2 L207.9 530.2 L207.9 533.2 L205.5 533.2Z"/><path class="k" d="M232.8 546.4 L237.2 546.4 L237.2 550.2 L232.8 550.2Z"/><path class="d" d="M233.8 550.2 L236.2 550.2 L236.2 553.2 L233.8 553.2Z"/><path class="l" d="M207.8 553L207.2 534"/><path class="l" d="M210 554.1L232.8 552"/></g>
<g><path class="w" style="stroke-width:1.2" d="M709.800 70.500 C710 67 713 65 716 64.800 C719.500 64.500 723 65 724.800 66.800 C728 70 731 74.500 732.600 78.500 C734.500 83.500 736.200 89.500 735.900 93.400 C735.600 96.500 733.500 98 731.200 99.500 L727.600 103 C725 105.200 722 105.800 719.300 105.300 C716.500 104.800 714 103.800 713.400 102.500 L711.700 85.100 Z"/><path class="s" d="M712.200 69.700 C714 68 716.500 67.800 718 69.500 L722.900 91 L724.300 98.400 M724.300 98.400 C727 98 730.500 96.800 733 94.500"/><path class="t" d="M713.500 101 C717 102.500 721 101.800 724.300 98.400 M715.500 90.500 L721.500 93.500"/><path class="d" d="M715.5 89.5 L717.5 90.5 L718.5 97.5 L716.2 98Z"/><path class="l" d="M754.9 69.7L733.6 76.8"/><path class="l" d="M719.8 106.4L719.8 133.7"/><path class="d" d="M717 133.7 L722.9 133.7 L722.9 141 L717 141Z"/><path class="w" style="stroke-width:1.5" d="M713.4 141.8 L725.3 141.8 L724.6 146.8 L714.6 146.8Z"/><path class="w" style="stroke-width:1.2" d="M715.800 146.800 C716 154 715 160 713 165 L701.500 184 L711.500 192 C716.500 183 720.500 174.500 722.500 167 C723.500 160 723.800 153 723.600 146.800Z"/><path class="b" d="M718.200 146.800 C718.500 155 717.500 161 715.500 166.500 L705 186"/><path class="b" style="stroke-width:2.2" d="M721.200 146.800 C721.500 156 720.500 162.500 718.500 168.500 L709 189.500"/><path class="w" style="stroke-width:1.3" d="M700.500 183.500 L709 180 L716.500 186 L716.200 190.500 L711.500 197 L706.500 203 L703.500 214 L701.500 224.500 C700 227 696 226.500 696 223.500 L697.500 208 C695 204.500 695.500 199.500 698 196.500 C697 191.500 698 187 700.500 183.500Z"/><path class="b" style="stroke-width:2.2" d="M713 194 L708 201.500 L705 212"/><circle class="w" style="stroke-width:1.4" cx="706.6" cy="187.6" r="5"/><circle class="w" style="stroke-width:1.2;fill:#999" cx="707" cy="187.3" r="2.8"/><circle class="w" style="stroke-width:1.3" cx="701" cy="201.2" r="3.8"/><circle class="d" cx="701" cy="201.2" r="1.8"/><circle class="k" cx="698.8" cy="214" r="0.9"/><circle class="t" cx="698.4" cy="222" r="1.1"/><path class="l" d="M749.7 149.6L724.1 156.3"/><circle class="k" cx="726.2" cy="190" r="3.7"/><circle class="w" style="stroke:none;fill:#eee" cx="727.7" cy="190.2" r="1.1"/><circle class="w" style="stroke:none;fill:#ccc" cx="725" cy="191.2" r="0.7"/><circle class="k" cx="686.5" cy="206.8" r="3.7"/><circle class="w" style="stroke:none;fill:#eee" cx="688" cy="207" r="1.1"/><circle class="w" style="stroke:none;fill:#ccc" cx="685.3" cy="208" r="0.7"/><path class="l" d="M739.5 175.7L728.8 187.1"/><path class="l" d="M673 180L685 203.5"/><path class="w" d="M743 181.6 L757.6 177.8 L758.6 181.6 L744 185.6Z"/><ellipse class="w" style="stroke-width:.9" cx="743.5" cy="183.6" rx="1.3" ry="2.1" transform="rotate(-15 743.5 183.6)"/><path class="l" d="M752.5 184.8L765.6 196.6"/><path class="w" style="stroke-width:.9" d="M716.8 214.4 L723.8 212.2 L724.4 214.6 L717.4 216.8Z"/><path class="k" d="M723.4 210.4 L726.6 209.6 L728.4 213.4 L726.6 216.2 L724.6 216Z"/><path class="w" style="stroke-width:.9" d="M714.1 223.4 L721.1 221.2 L721.7 223.6 L714.7 225.8Z"/><path class="k" d="M720.7 219.4 L723.9 218.6 L725.7 222.4 L723.9 225.2 L721.9 225Z"/><path class="l" d="M737.5 208.3L728.4 211.7"/><path class="l" d="M737.5 210.6L725.8 220.2"/><path class="w" style="stroke-width:1.1" d="M665 203 C664.600 200 668.500 198.800 669.800 201.500 L679.500 226.500 L684 224.800 C685.800 224.300 686.800 225.500 686.800 227 L686.500 234.200 L684 241.500 C683 243.500 680 243.300 679 241.800 L676.800 237.500 Z"/><circle class="t" cx="667.6" cy="202.4" r="1.1"/><circle class="t" cx="683.1" cy="229.5" r="1.1"/><circle class="t" cx="681.8" cy="238.9" r="1.1"/><path class="l" d="M640.4 181.3L666.3 202.7"/><path class="b" d="M661.300 214.500 L663.600 215 L662.600 220 L663.600 222.500 L662 225"/><path class="l" d="M633.7 203.8L661.1 213.9"/><circle class="k" cx="657.2" cy="238.8" r="3.4"/><circle class="w" style="stroke:none;fill:#eee" cx="658.7" cy="239" r="1"/><circle class="w" style="stroke:none;fill:#ccc" cx="656" cy="240" r="0.6"/><circle class="k" cx="654.6" cy="248.3" r="3.4"/><circle class="w" style="stroke:none;fill:#eee" cx="656.1" cy="248.5" r="1"/><circle class="w" style="stroke:none;fill:#ccc" cx="653.4" cy="249.5" r="0.6"/><path class="l" d="M632.6 237.5L653.9 238.7"/><path class="l" d="M632.6 238.5L651.2 246.5"/><path class="w" style="stroke-width:1.1" d="M674.2 269 L677 276 L686.5 290.3 L687.6 312.8 L701.1 327.4 L719.1 320.7 L729.2 309.4 L721 304Z"/><path class="t" d="M689.5 311.5 L701.5 324.8 L718 318.5"/><path class="t" d="M676 271.500 L681 270 L707 293 M678.500 277 L705 300.500"/><path class="k" d="M693 285.500 L699.500 288 L698.800 290 L692.500 287.500Z"/><path class="w" style="stroke-width:.9" d="M689.500 294.500 C695 296 702 301 705.500 308.500 L703.800 309.500 C701 303 695 298.500 689 297.200Z"/><circle class="d" cx="687.6" cy="305.6" r="2.5"/><ellipse class="t" cx="693.9" cy="313.9" rx="1" ry="1.6"/><path class="t" d="M686.5 291L687.6 303"/><path class="w" style="stroke-width:1.6" d="M671.900 261.100 L677.500 255.500 L692.100 252.100 L701.100 258.900 L734.800 294.800 L740.400 300.400 L734.800 306.100 L727 308.300 L721.300 304.900 L674.200 267.900 Z"/><path class="s" d="M675 261.800 L679 257.800 L691.500 254.800 L699.500 260.800 L733 296.300 L736.500 300.300 L733 303.800 L727.500 305.500 L722.500 302.500 L677 266.500Z"/><path class="w" style="stroke-width:1.3" d="M683.100 257.800 L693.300 255.500 L732.600 292.600 L722.500 297.100 Z"/><path class="t" d="M686 258 L724.500 295.800 M691 256.200 L689.500 261.500"/><path class="b" style="stroke-width:2" d="M671.900 261.100 L674.200 267.900 L721.300 304.900 L727 308.300"/><path class="l" d="M736 235.3L707.9 263.4"/><ellipse class="w" style="stroke-width:.8" cx="676.1" cy="309.4" rx="4.8" ry="6.8" transform="rotate(-15 676.1 309.4)"/><ellipse class="w" style="stroke-width:.9" cx="677.5" cy="309.4" rx="4.8" ry="6.8" transform="rotate(-15 677.5 309.4)"/><ellipse class="w" style="stroke-width:1;fill:#ddd" cx="677.5" cy="309.4" rx="0.9" ry="1.3" transform="rotate(-15 677.5 309.4)"/><path class="l" d="M676.4 334.2L678.7 317.3"/><ellipse class="w" style="stroke-width:.8" cx="658.4" cy="316.8" rx="3.9" ry="5.8" transform="rotate(-15 658.4 316.8)"/><ellipse class="w" style="stroke-width:.9" cx="659.6" cy="316.8" rx="3.9" ry="5.8" transform="rotate(-15 659.6 316.8)"/><ellipse class="w" style="stroke-width:1;fill:#ddd" cx="659.6" cy="316.8" rx="0.9" ry="1.3" transform="rotate(-15 659.6 316.8)"/><path class="l" d="M646.1 297.1L657.3 312.8"/><path d="M629.5 328.5L635.5 326.8" fill="none" stroke="#000" stroke-width="5.8" stroke-linecap="round"/><path d="M629.8 326.6L630.7 330" fill="none" stroke="#fff" stroke-width=".45"/><path d="M631.3 326.2L632.2 329.5" fill="none" stroke="#fff" stroke-width=".45"/><path d="M632.8 325.8L633.7 329.1" fill="none" stroke="#fff" stroke-width=".45"/><path d="M634.3 325.3L635.2 328.7" fill="none" stroke="#fff" stroke-width=".45"/><path class="l" d="M619.1 308.3L632.6 323.5"/><ellipse class="w" style="stroke-width:.8" cx="737.5" cy="283.6" rx="4.8" ry="6.8" transform="rotate(-15 737.5 283.6)"/><ellipse class="w" style="stroke-width:.9" cx="738.9" cy="283.6" rx="4.8" ry="6.8" transform="rotate(-15 738.9 283.6)"/><ellipse class="w" style="stroke-width:1;fill:#ddd" cx="738.9" cy="283.6" rx="0.9" ry="1.3" transform="rotate(-15 738.9 283.6)"/><path class="l" d="M757.3 298.2L743.8 290.3"/><path class="w" style="stroke-width:1.5" d="M747 274 C745.500 278 746.500 283 750 285 L757 284.500 C759.500 283 760.500 279 759 275.500 L754.500 271.500 C751.500 271 748.500 272 747 274Z"/><ellipse class="w" style="stroke-width:1.1" cx="752" cy="278.2" rx="4.2" ry="5.4" transform="rotate(-20 752 278.2)"/><ellipse class="w" style="stroke-width:1.1" cx="752.5" cy="278.5" rx="2.6" ry="3.6" transform="rotate(-20 752.5 278.5)"/><path class="l" d="M770.8 249.9L755.1 272.4"/><path class="w" d="M768.5 269.2 L787 263.6 L788.2 267.6 L769.7 273.4Z"/><path class="w" style="stroke-width:1.2" d="M786 262.5 L789.5 260.8 L792 261.8 L793.5 266.5 L790.5 269 L787.5 268.5Z"/><path class="t" d="M774 267.6 L775 271.6"/><ellipse class="t" cx="768.8" cy="271.3" rx="1.1" ry="2.1" transform="rotate(-17 768.8 271.3)"/><path class="l" d="M807 249.3L791.2 261.2"/></g>
<g><path class="w" style="stroke-width:1.1" d="M381.2 473.7 L512.5 425 L562.5 480 L567.5 490 L567.5 507.5 L455 550.4 L452.5 548.7 L453.7 537.5 L451.2 530Z"/><path class="s" d="M452.5 530.5 L566.2 493.7"/><path class="t" d="M453.7 544.7 L567.5 505"/><path class="s" d="M448.5 547.5 L450 551.5 L455 552 L456 549.5"/><path class="w" style="stroke-width:1.1" d="M365 440 L381.2 473.7 L512.5 425 L520 422.5 L522.5 416.2 L522.5 398.7 L512.5 376.2 L507.5 371.2 L488.7 372.5 L486.2 372.5 L478.7 370 L440 383.7 L357.5 416.2 L320 431.2 L353.7 435Z"/><path class="w" style="stroke-width:1.1" d="M320 431.2 L310 440 L303.7 485 L313.7 497.5 L327.5 493.7 L328.7 480 L351.2 476.2 L356.2 483.7 L381.2 473.7 L365 440 L353.7 435Z"/><path class="t" d="M313.7 437.5 L307.5 485.5"/><path class="s" d="M320 431.2 L321.2 455 L326.2 467.5 L328.7 480"/><ellipse class="s" cx="313.7" cy="481.2" rx="2.8" ry="4.8" transform="rotate(10 313.7 481.2)"/><path class="s" d="M365 440 L493.7 388.7"/><path class="t" d="M366.5 442.5 L495 391.2"/><path class="s" style="stroke-width:1.3" d="M321.5 433.5 L358 418.5 L437.4 387.4"/><path class="t" d="M437.4 387.4 L478.5 372.5"/><path class="s" d="M486.2 372.5 L488.7 377.5 L486.2 383.7 L493.7 388.7 L498.7 392.5 L512.5 425"/><path class="t" d="M488.7 372.5 L488.7 377.5"/><path class="t" d="M497.500 388 C501 392 503 397 504.500 403"/><path class="s" d="M371.2 415 L438.7 390 L457.5 395 L385 423.7Z"/><path class="t" d="M391.500 406.800 C396 402.500 403 404 404.500 410 M391.500 406.800 C389.500 411 391.500 417.500 395.500 419.500"/><path class="t" d="M404 416.2 L452 397.5"/><path class="s" d="M377.5 443.7 L386.2 441.2 L391.2 457.5 L382.5 460Z"/><path class="s" d="M401.2 438.7 L416.2 433.7 L420 443.7 L406.2 448.7Z"/><path class="s" d="M455 420 L468.7 415 L472.5 423.7 L460 428.7Z"/><path class="t" d="M458 427 L470.5 417.5"/><path class="s" d="M478.7 406.2 L482 401.5 L487.5 400 L496.2 403.7 L500 413.7 L492.5 421.2 L483.7 418.7Z"/><path class="t" d="M487.5 400 L489.5 408 L484.5 416.5 L492.5 421.2"/><path class="t" d="M489.5 408 L498 410"/><path class="s" d="M407.5 473.7 L417.5 470 L460 507.5 L452.5 513.7Z"/><path class="s" d="M490 443.7 L500 440 L541.2 476.2 L535 480Z"/><circle class="k" cx="410" cy="469.2" r="1.2"/><circle class="k" cx="456.2" cy="512" r="1.2"/><circle class="k" cx="492.5" cy="438.2" r="1.2"/><circle class="k" cx="538.7" cy="481.2" r="1.2"/><ellipse class="t" cx="406.7" cy="486.7" rx="2.2" ry="1" transform="rotate(35 406.7 486.7)"/><ellipse class="t" cx="446.7" cy="486.5" rx="2.2" ry="1" transform="rotate(35 446.7 486.5)"/><ellipse class="t" cx="520" cy="443.2" rx="2.2" ry="1" transform="rotate(35 520 443.2)"/><ellipse class="t" cx="502.5" cy="464.5" rx="2.2" ry="1" transform="rotate(35 502.5 464.5)"/><ellipse class="t" cx="547.5" cy="505.7" rx="2.2" ry="1" transform="rotate(80 547.5 505.7)"/><ellipse class="t" cx="472.5" cy="534.5" rx="2.2" ry="1" transform="rotate(80 472.5 534.5)"/><ellipse class="t" cx="336.2" cy="428.7" rx="2.2" ry="1" transform="rotate(-20 336.2 428.7)"/><ellipse class="t" cx="366.2" cy="417.5" rx="2.2" ry="1" transform="rotate(-20 366.2 417.5)"/><ellipse class="t" cx="445" cy="385" rx="2.2" ry="1" transform="rotate(-20 445 385)"/><ellipse class="t" cx="433.7" cy="400" rx="2.2" ry="1" transform="rotate(-20 433.7 400)"/><ellipse class="t" cx="423.7" cy="408.7" rx="2.2" ry="1" transform="rotate(-20 423.7 408.7)"/><ellipse class="t" cx="476" cy="375.5" rx="2.2" ry="1" transform="rotate(-20 476 375.5)"/><ellipse class="t" cx="514.5" cy="398" rx="2.2" ry="1" transform="rotate(70 514.5 398)"/><path class="l" d="M518.3 345.3L497 386.9"/><path class="w" style="stroke-width:1.1" d="M363.700 505.500 C363 503 365.500 502 367.500 503.200 L424.500 536.800 C427.500 538.800 428 542 426.200 544 C424.500 546 421.500 546 419.500 544.800 L365.500 514.200 C364 513 363.900 508 363.700 505.500Z"/><circle class="t" cx="367" cy="508.8" r="1.1"/><ellipse class="s" cx="422" cy="540.2" rx="3.4" ry="2.3" transform="rotate(30 422 540.2)"/><path class="l" d="M406.2 536.2L402.5 552.5"/></g>
<g><path class="w" style="stroke-width:1" d="M472.7 306.5 L475.3 306.5 L475.1 311.5 L472.9 311.5Z"/><ellipse class="w" style="stroke-width:1.4" cx="474" cy="305.5" rx="4.3" ry="2.3" transform="rotate(-8 474 305.5)"/><ellipse class="k" cx="474.3" cy="305.2" rx="1.8" ry="0.9" transform="rotate(-8 474.3 305.2)"/><path class="w" style="stroke-width:1" d="M527.2 390.2 L529.4 389.6 L529.4 392.2 L527.6 392.6Z"/><circle class="w" style="stroke-width:1.5" cx="532.4" cy="391.8" r="3.7"/><path class="k" d="M534 393.9 a2.3 2.3 0 1 1 -1 -4.2 a3 3 0 0 0 1 4.200Z"/><path class="w" style="stroke-width:.9" d="M531.6 395.2 L533.2 395.2 L533 397.2 L531.8 397.2Z"/><path class="w" style="stroke-width:1" d="M334.7 404.8 L337.3 404.8 L337.1 409.8 L334.9 409.8Z"/><ellipse class="w" style="stroke-width:1.4" cx="336" cy="403.8" rx="4.3" ry="2.3" transform="rotate(-8 336 403.8)"/><ellipse class="k" cx="336.3" cy="403.5" rx="1.8" ry="0.9" transform="rotate(-8 336.3 403.5)"/><path class="w" style="stroke-width:1" d="M413.3 432.2 L415.5 431.6 L415.5 434.2 L413.7 434.6Z"/><circle class="w" style="stroke-width:1.5" cx="418.5" cy="433.8" r="3.7"/><path class="k" d="M420.1 435.9 a2.3 2.3 0 1 1 -1 -4.2 a3 3 0 0 0 1 4.200Z"/><path class="w" style="stroke-width:.9" d="M417.7 437.2 L419.3 437.2 L419.1 439.2 L417.9 439.2Z"/><path class="w" style="stroke-width:1" d="M581.8 516.8 L584 516.2 L584 518.8 L582.2 519.2Z"/><circle class="w" style="stroke-width:1.5" cx="587" cy="518.4" r="3.7"/><path class="k" d="M588.6 520.5 a2.3 2.3 0 1 1 -1 -4.2 a3 3 0 0 0 1 4.200Z"/><path class="w" style="stroke-width:.9" d="M586.2 521.8 L587.8 521.8 L587.6 523.8 L586.4 523.8Z"/><path class="w" style="stroke-width:1" d="M504.8 546.8 L507 546.2 L507 548.8 L505.2 549.2Z"/><circle class="w" style="stroke-width:1.5" cx="510" cy="548.4" r="3.7"/><path class="k" d="M511.6 550.5 a2.3 2.3 0 1 1 -1 -4.2 a3 3 0 0 0 1 4.200Z"/><path class="w" style="stroke-width:.9" d="M509.2 551.8 L510.8 551.8 L510.6 553.8 L509.4 553.8Z"/><path class="l" d="M492.5 282L475.6 302.5"/><path class="l" d="M542.4 368L534 388"/><path class="l" d="M347.5 390L337 401.5"/><path class="l" d="M373.7 391.2L416.2 430.5"/><path class="l" d="M583.7 540L587.5 523.7"/><path class="l" d="M523.7 536.2L513.7 546"/><ellipse class="w" style="stroke-width:1.6" cx="547.4" cy="391.5" rx="5.2" ry="6.8" transform="rotate(-15 547.4 391.5)"/><ellipse class="w" style="stroke-width:1.1" cx="548" cy="391.8" rx="3.3" ry="4.8" transform="rotate(-15 548 391.8)"/><path class="l" d="M571.1 379L552 388"/><circle class="k" cx="589.1" cy="346" r="3.7"/><circle class="w" style="stroke:none;fill:#eee" cx="590.6" cy="346.2" r="1.1"/><circle class="w" style="stroke:none;fill:#ccc" cx="587.9" cy="347.2" r="0.7"/><path class="l" d="M565.5 329.6L585.7 343"/><ellipse class="w" style="stroke-width:.8" cx="607" cy="337.4" rx="3.9" ry="5.5" transform="rotate(-15 607 337.4)"/><ellipse class="w" style="stroke-width:.9" cx="608.2" cy="337.4" rx="3.9" ry="5.5" transform="rotate(-15 608.2 337.4)"/><ellipse class="w" style="stroke-width:1;fill:#ddd" cx="608.2" cy="337.4" rx="0.9" ry="1.3" transform="rotate(-15 608.2 337.4)"/><path class="l" d="M591.3 320.6L604.8 334"/><path class="l" d="M645.3 296L657 312.5"/><path class="k" d="M625.9 379.7 L631 377.4 L629.6 374.3 L624.5 376.7Z"/><circle class="w" style="stroke-width:1.1" cx="625.2" cy="378.2" r="2.6"/><path class="t" d="M623.9 376.9L626.5 379.5"/><path class="k" d="M626.6 402.5 L631.8 400.6 L630.7 397.4 L625.4 399.3Z"/><circle class="w" style="stroke-width:1.1" cx="626" cy="400.9" r="2.6"/><path class="t" d="M624.7 399.6L627.3 402.2"/><path class="l" d="M614.6 386.7L622.4 379.6"/><path class="l" d="M615.2 391.5L624 398.5"/><path class="w" style="stroke-width:.9" d="M546.3 439 L552.5 437 L553.3 439.6 L547 441.8Z"/><path class="d" d="M552.5 434.5 L556 433.5 L558.5 436 L557.5 440 L554 441 L551.8 438.5Z"/><path class="w" style="stroke-width:.9" d="M557.8 435.5 L560.5 434.7 L561.5 437.5 L558.4 438.6Z"/><path class="l" d="M571.5 423.5L559.5 434.8"/><g transform="rotate(-18 324 513.5)"><path class="w" style="stroke-width:.9" d="M316 512.3 L322 512.3 L322 514.8 L316 514.8Z"/><circle class="w" style="stroke-width:1.4;fill:#888" cx="324" cy="513.5" r="2.7"/></g><g transform="rotate(-18 324 538.5)"><path class="w" style="stroke-width:.9" d="M316 537.3 L322 537.3 L322 539.8 L316 539.8Z"/><circle class="w" style="stroke-width:1.4;fill:#888" cx="324" cy="538.5" r="2.7"/></g><g transform="rotate(-15 566.5 530.3) translate(1133 0) scale(-1 1)"><path class="w" style="stroke-width:.9" d="M558.5 529.1 L564.5 529.1 L564.5 531.6 L558.5 531.6Z"/><circle class="w" style="stroke-width:1.4;fill:#888" cx="566.5" cy="530.3" r="2.7"/></g><g transform="rotate(-15 565.6 556) translate(1131.2 0) scale(-1 1)"><path class="w" style="stroke-width:.9" d="M557.6 554.8 L563.6 554.8 L563.6 557.3 L557.6 557.3Z"/><circle class="w" style="stroke-width:1.4;fill:#888" cx="565.6" cy="556" r="2.7"/></g><path class="l" d="M338.7 508.7L327 512.8"/><path class="l" d="M340 532.5L327 537.8"/><path class="l" d="M552.5 527.5L563.5 530"/><path class="l" d="M553.7 533.7L564.5 553"/><g transform="translate(299.7 528.2) rotate(-15) scale(1)"><path class="w" style="stroke-width:1.1" d="M-4.5 -3.2 L3.5 -4.2 L4.5 2.6 L-1 4.2 L-4.8 2.4Z"/><path class="t" d="M-4.5 -3.2 L-2.5 -1.6 L3.8 -2.5 L3.5 -4.2"/><path class="t" d="M-2.5 -1.6 L-1 4.2"/><ellipse class="w" style="stroke-width:1" cx="1.2" cy="0.6" rx="1.8" ry="1.4"/></g><g transform="translate(347.5 565.3) rotate(-10) scale(1)"><path class="w" style="stroke-width:1.1" d="M-4.5 -3.2 L3.5 -4.2 L4.5 2.6 L-1 4.2 L-4.8 2.4Z"/><path class="t" d="M-4.5 -3.2 L-2.5 -1.6 L3.8 -2.5 L3.5 -4.2"/><path class="t" d="M-2.5 -1.6 L-1 4.2"/><ellipse class="w" style="stroke-width:1" cx="1.2" cy="0.6" rx="1.8" ry="1.4"/></g><g transform="translate(584.5 482.5) rotate(0) scale(1)"><path class="w" style="stroke-width:1.1" d="M-4.5 -3.2 L3.5 -4.2 L4.5 2.6 L-1 4.2 L-4.8 2.4Z"/><path class="t" d="M-4.5 -3.2 L-2.5 -1.6 L3.8 -2.5 L3.5 -4.2"/><path class="t" d="M-2.5 -1.6 L-1 4.2"/><ellipse class="w" style="stroke-width:1" cx="1.2" cy="0.6" rx="1.8" ry="1.4"/></g><g transform="translate(460.4 580.8) rotate(0) scale(1)"><path class="w" style="stroke-width:1.1" d="M-4.5 -3.2 L3.5 -4.2 L4.5 2.6 L-1 4.2 L-4.8 2.4Z"/><path class="t" d="M-4.5 -3.2 L-2.5 -1.6 L3.8 -2.5 L3.5 -4.2"/><path class="t" d="M-2.5 -1.6 L-1 4.2"/><ellipse class="w" style="stroke-width:1" cx="1.2" cy="0.6" rx="1.8" ry="1.4"/></g><g transform="translate(448.1 596.6) rotate(20) scale(1)"><path class="w" style="stroke-width:1.1" d="M-4.5 -3.2 L3.5 -4.2 L4.5 2.6 L-1 4.2 L-4.8 2.4Z"/><path class="t" d="M-4.5 -3.2 L-2.5 -1.6 L3.8 -2.5 L3.5 -4.2"/><path class="t" d="M-2.5 -1.6 L-1 4.2"/><ellipse class="w" style="stroke-width:1" cx="1.2" cy="0.6" rx="1.8" ry="1.4"/></g><g transform="translate(502 577.5) rotate(15) scale(1)"><path class="w" style="stroke-width:1.1" d="M-4.5 -3.2 L3.5 -4.2 L4.5 2.6 L-1 4.2 L-4.8 2.4Z"/><path class="t" d="M-4.5 -3.2 L-2.5 -1.6 L3.8 -2.5 L3.5 -4.2"/><path class="t" d="M-2.5 -1.6 L-1 4.2"/><ellipse class="w" style="stroke-width:1" cx="1.2" cy="0.6" rx="1.8" ry="1.4"/></g><g transform="translate(536.9 557.2) rotate(0) scale(0.9)"><path class="w" style="stroke-width:1.1" d="M-4.5 -3.2 L3.5 -4.2 L4.5 2.6 L-1 4.2 L-4.8 2.4Z"/><path class="t" d="M-4.5 -3.2 L-2.5 -1.6 L3.8 -2.5 L3.5 -4.2"/><path class="t" d="M-2.5 -1.6 L-1 4.2"/><ellipse class="w" style="stroke-width:1" cx="1.2" cy="0.6" rx="1.8" ry="1.4"/></g><g transform="translate(625.2 539.3) rotate(0) scale(1)"><path class="w" style="stroke-width:1.1" d="M-4.5 -3.2 L3.5 -4.2 L4.5 2.6 L-1 4.2 L-4.8 2.4Z"/><path class="t" d="M-4.5 -3.2 L-2.5 -1.6 L3.8 -2.5 L3.5 -4.2"/><path class="t" d="M-2.5 -1.6 L-1 4.2"/><ellipse class="w" style="stroke-width:1" cx="1.2" cy="0.6" rx="1.8" ry="1.4"/></g><path class="w" style="stroke-width:1.1" d="M583.3 452.8 L588 448.5 L596.5 448 L597.5 451.5 L591 456.5Z"/><path class="t" d="M588 448.5 L590.5 451.5 L597.5 451.5"/><path class="t" d="M590.5 451.5L591 456.5"/><path class="w" style="stroke-width:1.1" d="M279.6 504 L284 501.2 L290.2 502.5 L289.5 506 L284 507.2Z"/><path class="t" d="M284 501.2 L285 504.5 L289.5 506"/><path class="l" d="M307.2 514.4L302.9 525"/><path class="l" d="M298.7 505.9L288.1 503.8"/><path class="l" d="M361.9 553.7L350.7 563.2"/><path class="l" d="M596.2 500L591.2 456.2"/><path class="l" d="M595 500L587.5 486.5"/></g>
<g><path class="w" style="stroke-width:1.1" d="M660.800 354 C660.800 351 663 350.500 664.500 351.100 C666.500 352 668.100 354 668.100 356 L668.100 360.800 L664.900 365.700 L664.900 370.600 L669 378.700 L669 381.900 L666.500 398.200 L666.500 409.500 L677.100 416 L676.300 419.300 L664.900 424.200 L662.500 422.500 L656.800 414.800 L654.400 415.200 L647.500 412.800 L649.500 391.700 L657.600 383.600 Z"/><path class="s" d="M666.5 398.2 L664.9 424.2"/><path class="t" d="M648.5 411 L654.5 413.2 L657 412.5 L663 420.5"/><circle class="t" cx="663.6" cy="359.7" r="1.2"/><circle class="t" cx="664.6" cy="382.3" r="1.2"/><path class="l" d="M709.5 382.8L667.3 397.4"/><path class="k" d="M671.1 371.5 L673 369.3 L675.5 370.3 L676.1 373.3 L673.9 375.5 L671.5 374.5Z"/><path class="k" d="M695 404.5 L696.9 402.3 L699.4 403.3 L700 406.3 L697.8 408.5 L695.4 407.5Z"/><path class="l" d="M686.8 363.3L675.5 370"/><path class="l" d="M697.4 420.1L697.4 408.7"/><path class="w" style="stroke-width:1.1" d="M601.8 475.6 L616.7 471.4 L615.6 491.5 L599.7 496.8 L601.8 487.3 L600.3 484Z"/><ellipse class="s" cx="607.1" cy="484.7" rx="2" ry="1.3" transform="rotate(-20 607.1 484.7)"/><path class="w" style="stroke-width:1.1" d="M620.9 452.3 L615.6 491.5 L622 512.8 L624.1 523.4 L631.5 530.8 L634.7 529.7 L633.7 517 L628.4 457.6Z"/><path class="w" style="stroke-width:1.1" d="M608.2 449.1 L619.9 444.4 L631.5 449.1 L632.6 453.3 L628.4 456.5 L620.9 452.3 L615.6 454.4Z"/><ellipse class="t" cx="619.5" cy="448.3" rx="2.2" ry="1.2" transform="rotate(-15 619.5 448.3)"/><path class="w" style="stroke-width:1.1" d="M628.4 457.6 L636.8 461.8 L651.7 493.7 L663.4 506.4 L682.5 527.6 L705.8 557.3 L710.1 570 L709 576.4 L699.4 581.7 L691 578.5 L697.3 574.3 L701.6 575.5 L701.6 561.6 L698.4 555.2 L694.1 557.3 L692 563.7 L655.9 534 L634.7 529.7 L633.7 517Z"/><path class="b" style="stroke-width:1.500" d="M631.5 449.1 L636.8 461.8 L651.7 493.7 L663.4 506.4 L682.5 527.6 L705.8 557.3 L710.1 570"/><path class="s" d="M652.8 495.8 L655.9 534"/><path class="t" d="M701.6 575.5 L706 573 L709 576.4"/><ellipse class="s" cx="676.1" cy="539.3" rx="3.4" ry="5.2" transform="rotate(-20 676.1 539.3)"/><circle class="s" cx="640" cy="499" r="3.4"/><path class="w" style="stroke-width:1" d="M652.800 509.600 L656 506.500 L661.200 507.500 L664 511 L669.700 519.100 L668 522 L663.400 523.400 C660 523 658.500 521 658.100 518.100 L654 516 Z"/><ellipse class="t" cx="663.4" cy="514.9" rx="1.8" ry="1.2" transform="rotate(30 663.4 514.9)"/><path class="d" d="M634.7 517 L637.9 517 L637.9 524.4 L635 524.4Z"/><circle class="k" cx="626.2" cy="518" r="0.9"/><circle class="k" cx="631.5" cy="527.6" r="0.9"/><circle class="k" cx="635.8" cy="465" r="0.9"/><circle class="k" cx="631.5" cy="468.2" r="0.9"/><circle class="k" cx="649.6" cy="493.7" r="0.9"/><circle class="k" cx="628.4" cy="491.5" r="0.9"/><circle class="k" cx="640" cy="507.5" r="0.9"/><circle class="k" cx="700.5" cy="578.5" r="0.9"/><path class="l" d="M704.7 508.5L682.5 526.6"/><path class="l" d="M607.1 518.1L622 537.2"/><path class="w" style="stroke-width:1.1" d="M248.8 515.5 L241.4 562.2 L248.8 583.4 L259.4 602.5 L262.6 600.4 L267.9 591.9 L260.5 519.7Z"/><path class="w" style="stroke-width:1.1" d="M260.5 519.7 L267.9 591.9 L270 591.9 L287 589.7 L278.5 520.8 L272.1 514.4 L262.6 519.7Z"/><path class="t" d="M262.6 519.7 L270 590.8"/><path class="w" style="stroke-width:1.1" d="M248.8 515.5 L261.5 510.2 L272.1 514.4 L262.6 519.7 L260.5 519.7Z"/><ellipse class="t" cx="261" cy="514.8" rx="2" ry="1.1" transform="rotate(-15 261 514.8)"/><path class="w" style="stroke-width:1.1" d="M278.5 520.8 L280.6 519.7 L288.1 525 L305 557.9 L315.6 568.5 L334.7 581.3 L370.8 608.8 L379.3 622.7 L388.9 627.9 L385.7 632.2 L381.4 634.3 L370.8 629 L369.8 619.5 L365.5 613.1 L360.2 614.2 L357 620.5 L316.7 600.4 L308.2 596.1 L287 589.7Z"/><path class="b" style="stroke-width:1.500" d="M280.6 519.7 L288.1 525 L305 557.9 L315.6 568.5 L334.7 581.3 L370.8 608.8 L379.3 622.7"/><path class="t" d="M282.8 521.5 L289.5 589.7"/><path class="s" d="M305 560 L308.2 596.1"/><path class="t" d="M370.8 629 L374 625 L379.3 622.7"/><path class="w" style="stroke-width:1" d="M315.600 568.500 L318.800 565.300 L328.400 563.200 L332.600 566.400 L333.700 571.700 L343.200 573.800 L343.200 578.100 L334.700 582.300 Z"/><ellipse class="t" cx="330.5" cy="571.7" rx="1.8" ry="1.2" transform="rotate(20 330.5 571.7)"/><ellipse class="s" cx="335.2" cy="598.7" rx="3.8" ry="5.2" transform="rotate(-20 335.2 598.7)"/><circle class="s" cx="292.3" cy="559" r="3.3"/><rect class="s" x="273.800" y="542" width="3.200" height="8.400" rx="1.400"/><path class="d" d="M287.6 579.1 L290.2 579.1 L290.5 587.6 L288.2 587.6Z"/><circle class="k" cx="255.2" cy="563.2" r="0.9"/><circle class="k" cx="253.7" cy="588.7" r="0.9"/><circle class="k" cx="260.5" cy="599.3" r="0.9"/><circle class="k" cx="282.8" cy="529.3" r="0.9"/><circle class="k" cx="288" cy="527" r="0.9"/><circle class="k" cx="294.4" cy="540.9" r="0.9"/><circle class="k" cx="301.9" cy="557.9" r="0.9"/><circle class="k" cx="383.6" cy="629" r="0.9"/><circle class="k" cx="290" cy="565.5" r="0.9"/><path class="l" d="M316.7 601.4L306.1 636.4"/><path class="w" style="stroke-width:1.1" d="M429 617.9 L445.8 611.2 L450.3 613.4 L453.7 607.8 L515.5 585.3 L516.6 583.1 L530.1 579.7 L538 576.3 L549.2 583.1 L549.9 594.3 L556 599.9 L545.8 604.4 L534.6 607.8 L469.4 632.5 L450.3 640.4 L439.1 635.9 L439.1 624.7Z"/><path class="t" d="M439.1 624.7 L451 620 L453.7 607.8"/><path class="s" d="M462.7 614.6 L527.9 591"/><path class="t" d="M464 617.5 L529 593.8"/><path class="s" d="M468.300 622.400L534.600 598.800" stroke-dasharray="1.200 1.200"/><path class="s" d="M469.4 626.9 L532.4 604"/><path class="w" style="stroke-width:1" d="M448.5 615.5 L459.5 611.5 L468.3 620.4 L468.3 632.8 L459.5 634.5 L459.5 625 L451 620Z"/><path class="w" style="stroke-width:1" d="M523.5 588.5 L536 583.5 L542.5 593 L542.5 604.8 L534.6 607.8 L534.6 597.5 L527.9 591Z"/><path class="t" d="M451 620 L451 636.5"/><path class="t" d="M445 633.5 L451 636.5 L459.5 634.5"/><path class="t" d="M542.5 597 L549.9 594.3"/><ellipse class="w" style="stroke-width:1.1" cx="463.8" cy="627.4" rx="1.5" ry="2"/><ellipse class="w" style="stroke-width:1.1" cx="539.1" cy="598.8" rx="1.5" ry="2"/><ellipse class="t" cx="448.1" cy="635.9" rx="1.8" ry="1.1" transform="rotate(-15 448.1 635.9)"/><ellipse class="t" cx="547" cy="598.8" rx="1.8" ry="1.1" transform="rotate(-15 547 598.8)"/><ellipse class="t" cx="461.6" cy="611.2" rx="1.8" ry="1.1" transform="rotate(-15 461.6 611.2)"/><ellipse class="t" cx="517.8" cy="589.8" rx="1.8" ry="1.1" transform="rotate(-15 517.8 589.8)"/><path class="l" d="M524.5 630.3L514.4 619"/><path class="l" d="M480.7 569.6L463.8 584.2"/><path class="l" d="M481.8 570.7L453.7 596.6"/><path class="l" d="M490.8 568.5L498.7 576.3"/><path class="l" d="M497.5 563.5L533.5 557.7"/><path class="w" style="stroke-width:.9" d="M455.8 662.9 L458.4 662.9 L457.3 677 L454.7 677Z"/><path class="d" d="M454 677 L458 677 L458.8 679.6 L453.2 679.6Z"/><path class="w" style="stroke-width:.9" d="M511.5 646 L514.1 646 L513 661 L510.4 661Z"/><path class="d" d="M509.7 661 L513.7 661 L514.5 663.6 L508.9 663.6Z"/><path class="l" d="M491.9 696.6L459.3 680.2"/><path class="l" d="M497.5 694.3L511.8 665"/><path class="d" d="M444.7 685 L446.9 685 L446.9 688.8 L444.7 688.8Z"/><ellipse class="w" style="stroke-width:1.1" cx="445.8" cy="689.8" rx="4" ry="2.3"/><path class="d" d="M542 649.1 L544.2 649.1 L544.2 652.9 L542 652.9Z"/><ellipse class="w" style="stroke-width:1.1" cx="543.1" cy="653.9" rx="4" ry="2.3"/><path class="l" d="M448.1 694.3L459.3 715.7"/><path class="l" d="M547 657.2L572.8 686.5"/><path d="M109 659 C104 666 99 674 95.500 681.700" fill="none" stroke="#000" stroke-width="3.6" stroke-linecap="round" stroke-linejoin="round"/><path d="M109 659 C104 666 99 674 95.500 681.700" fill="none" stroke="#fff" stroke-width="1.7" stroke-linecap="round" stroke-linejoin="round"/><path d="M109 659 C108 667 109 675 112 681 C114 685.500 117 689.500 119.500 688.500 L126.600 685.300" fill="none" stroke="#000" stroke-width="3.6" stroke-linecap="round" stroke-linejoin="round"/><path d="M109 659 C108 667 109 675 112 681 C114 685.500 117 689.500 119.500 688.500 L126.600 685.300" fill="none" stroke="#fff" stroke-width="1.7" stroke-linecap="round" stroke-linejoin="round"/><path d="M112 659.500 C118 668 125 673.500 132 675.500 C138 677.500 144 678.500 147 677.500 L154.100 674.100" fill="none" stroke="#000" stroke-width="3.6" stroke-linecap="round" stroke-linejoin="round"/><path d="M112 659.500 C118 668 125 673.500 132 675.500 C138 677.500 144 678.500 147 677.500 L154.100 674.100" fill="none" stroke="#fff" stroke-width="1.7" stroke-linecap="round" stroke-linejoin="round"/><path d="M185.500 630.500 C189 633.500 191.500 637 192.400 641.100 C193.500 646 194 651 194.800 655.400 C196 658.500 198.500 658.500 200.500 657.500 L204.300 655" fill="none" stroke="#000" stroke-width="3.6" stroke-linecap="round" stroke-linejoin="round"/><path d="M185.500 630.500 C189 633.500 191.500 637 192.400 641.100 C193.500 646 194 651 194.800 655.400 C196 658.500 198.500 658.500 200.500 657.500 L204.300 655" fill="none" stroke="#fff" stroke-width="1.7" stroke-linecap="round" stroke-linejoin="round"/><path d="M184 630 C189 629.500 193 630.500 196.500 632.500 C202 636 206 640 211 644 C215 647.500 219 649 223 648.800 L231.800 645.400" fill="none" stroke="#000" stroke-width="3.6" stroke-linecap="round" stroke-linejoin="round"/><path d="M184 630 C189 629.500 193 630.500 196.500 632.500 C202 636 206 640 211 644 C215 647.500 219 649 223 648.800 L231.800 645.400" fill="none" stroke="#fff" stroke-width="1.7" stroke-linecap="round" stroke-linejoin="round"/><path d="M185.200 666.200 C181 662.500 176.500 658 174.500 653 C172.500 648 172.500 644 173.300 641.100 C175 636 178 632.500 184 630" fill="none" stroke="#000" stroke-width="3.8" stroke-linecap="round" stroke-linejoin="round"/><path d="M185.200 666.200 C181 662.500 176.500 658 174.500 653 C172.500 648 172.500 644 173.300 641.100 C175 636 178 632.500 184 630" fill="none" stroke="#fff" stroke-width="1.9" stroke-linecap="round" stroke-linejoin="round"/><path d="M108.700 656.600 C115 655 122 654.500 127.800 654.800 C136 655 144 655.500 151.700 656.600 C160 658 168 661 175.600 663.800 C187 667 198 669 209.100 672.200 C216 674.500 222 678 225.900 681.700 C230 686 234 690 234.200 695 C234.500 699 234 702.500 233 705.600 C231.500 709 229.500 712 228.300 715.200 C226.500 722 225 728 223.500 734.300 C221.500 741 219 748 216.300 753.500 C213.500 758.500 210.500 763 206.700 765.400 C203 767.800 199 769 194.800 769 L186 769" fill="none" stroke="#000" stroke-width="6" stroke-linecap="round" stroke-linejoin="round"/><path d="M108.700 656.600 C115 655 122 654.500 127.800 654.800 C136 655 144 655.500 151.700 656.600 C160 658 168 661 175.600 663.800 C187 667 198 669 209.100 672.200 C216 674.500 222 678 225.900 681.700 C230 686 234 690 234.200 695 C234.500 699 234 702.500 233 705.600 C231.500 709 229.500 712 228.300 715.200 C226.500 722 225 728 223.500 734.300 C221.500 741 219 748 216.300 753.500 C213.500 758.500 210.500 763 206.700 765.400 C203 767.800 199 769 194.800 769 L186 769" fill="none" stroke="#fff" stroke-width="4.1" stroke-linecap="round" stroke-linejoin="round"/><path class="d" d="M105.5 652.5 L111 651 L112.5 656 L107 658Z"/><path class="d" d="M181 625.5 L187 624.5 L187.5 629.5 L182 630.5Z"/><path class="d" d="M94 680.5 L98.5 681.5 L97.5 688 L93 687Z"/><path class="d" d="M212.5 636 L221 633.5 L222.5 638 L214 641Z"/><path class="w" style="stroke-width:1" d="M187 663.5 L191.5 664.8 L190.5 670.8 L186.5 669.5Z"/><path class="w" style="stroke-width:1.300" d="M179 768 C178 772 179 776 181.500 778.500 L181 787 L184 793.500 L190.500 793 L192.500 786 L192 777 L190 768 Z"/><path class="d" d="M183 779 L190.5 778 L191 787 L184 788Z"/><path class="k" d="M184.5 789 L190 788.5 L190 793 L185 793.5Z"/><path class="s" d="M183.500 767 L186.500 775 M188 767 L189.500 774"/><path class="w" style="stroke-width:1.200" d="M228 706 L236.500 707.500 L236 712 L227.200 710.500Z"/><path class="w" style="stroke-width:1.300" d="M228 706 C226 702 224.500 698 222.500 695 C220 694 218.500 696.500 220 699.500 C221.500 702.500 224 704 225.500 708 L227.200 710.500"/><circle class="w" style="stroke-width:1.3" cx="222.6" cy="698.2" r="3"/><circle class="d" cx="222.8" cy="698.5" r="1.5"/><path class="l" d="M257 668.6L235.4 687.7"/><path class="l" d="M262.9 703.3L236.6 710.4"/></g>
<g>
<text x="271.9" y="37.8">11</text>
<text x="311.9" y="93.8">6</text>
<text x="291.9" y="108.3">35</text>
<text x="64.4" y="135.3">4</text>
<text x="206.9" y="150.3">30</text>
<text x="255.9" y="141.1">16</text>
<text x="262.9" y="166.8">17</text>
<text x="365.4" y="150.8">35</text>
<text x="405.4" y="163.3">40</text>
<text x="430.4" y="144.3">41</text>
<text x="399.4" y="187.3">5</text>
<text x="316.7" y="202.6">25</text>
<text x="272.9" y="213.8">26</text>
<text x="131.9" y="208.8">44</text>
<text x="131.9" y="223.8">29</text>
<text x="380.9" y="215.3">2944</text>
<text x="376.9" y="237.3">17</text>
<text x="399.4" y="235.3">23</text>
<text x="404.4" y="255.3">22</text>
<text x="436.9" y="250.3">23</text>
<text x="431.9" y="274.3">31</text>
<text x="192.9" y="261.8">18</text>
<text x="294.4" y="295.8">29</text>
<text x="293.4" y="310.3">44</text>
<text x="257.4" y="314.3">8</text>
<text x="416.9" y="303.3">29</text>
<text x="416.9" y="318.3">44</text>
<text x="333.4" y="347.8">29</text>
<text x="333.4" y="361.8">44</text>
<text x="413.4" y="344.3">37</text>
<text x="423.4" y="361.8">7</text>
<text x="175.4" y="349.3">15</text>
<text x="257.9" y="361.3">35</text>
<text x="312.4" y="389.3">36</text>
<text x="164.4" y="397.8">35</text>
<text x="284.4" y="391.3">7</text>
<text x="342.4" y="388.8">7</text>
<text x="363.4" y="390.3">7</text>
<text x="241.4" y="411.3">23</text>
<text x="296.4" y="405.8">23</text>
<text x="278.7" y="424.3">21</text>
<text x="304.9" y="424.8">31</text>
<text x="233.9" y="439.3">17</text>
<text x="139.4" y="433.3">14</text>
<text x="159.9" y="477.3">17</text>
<text x="276.9" y="477.8">32</text>
<text x="243.7" y="508.3">26</text>
<text x="298.4" y="512.3">24</text>
<text x="339.4" y="509.3">33</text>
<text x="339.4" y="534.3">33</text>
<text x="151.4" y="556.1">25</text>
<text x="191.4" y="565.3">29</text>
<text x="189.9" y="580.8">44</text>
<text x="119.4" y="489.8">16</text>
<text x="93.4" y="504.9">30</text>
<text x="360.9" y="554.1">24</text>
<text x="384.7" y="568.1">46</text>
<text x="292.4" y="650.6">45</text>
<text x="257.2" y="666.6">34</text>
<text x="262.6" y="704.9">9</text>
<text x="754.4" y="70.3">19</text>
<text x="505.4" y="127.8">43</text>
<text x="476.9" y="139.3">42</text>
<text x="749.4" y="152.8">15</text>
<text x="656.9" y="175.3">35</text>
<text x="738.4" y="172.8">35</text>
<text x="620.4" y="182.8">12</text>
<text x="610.4" y="208.8">26</text>
<text x="737.6" y="209.3">27</text>
<text x="762.9" y="211.3">25</text>
<text x="734.4" y="231.9">13</text>
<text x="610.4" y="242.8">28</text>
<text x="768.1" y="246.7">16</text>
<text x="807.2" y="246.7">30</text>
<text x="759.4" y="308.8">17</text>
<text x="487.9" y="280.3">7</text>
<text x="626.9" y="295.3">23</text>
<text x="599.4" y="305.5">20</text>
<text x="571.9" y="320.3">23</text>
<text x="548.4" y="330.3">31</text>
<text x="514.4" y="344.3">1</text>
<text x="656.9" y="348.8">17</text>
<text x="687.6" y="357.3">29</text>
<text x="686.9" y="371.8">44</text>
<text x="539.4" y="366.3">7</text>
<text x="573.4" y="378.8">32</text>
<text x="708.4" y="385.3">10</text>
<text x="593.4" y="397.8">29</text>
<text x="591.9" y="413.8">44</text>
<text x="571.9" y="422.1">38</text>
<text x="685.9" y="432.8">29</text>
<text x="685.4" y="448.8">44</text>
<text x="590.4" y="515.3">24</text>
<text x="703.9" y="506.8">2</text>
<text x="520.4" y="541.3">7</text>
<text x="531.9" y="533.8">33</text>
<text x="577.4" y="553.3">7</text>
<text x="474.2" y="566.7">24</text>
<text x="523.6" y="642.6">3</text>
<text x="487.2" y="713.1">39</text>
<text x="573.2" y="699.1">7</text>
<text x="455.9" y="727.3">7</text>
</g>
</svg></body></html>
